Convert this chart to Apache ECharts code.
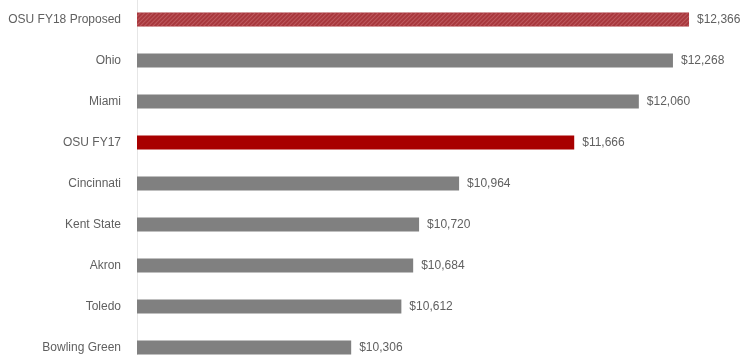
<!DOCTYPE html>
<html>
<head>
<meta charset="utf-8">
<script src="https://cdn.jsdelivr.net/npm/echarts@6/dist/echarts.min.js"></script>
<style>html,body{margin:0;padding:0;background:#fff;}#c{width:746px;height:355px;}</style>
</head>
<body>
<div id="c"></div>
<script>
var categories = ['OSU FY18 Proposed','Ohio','Miami','OSU FY17','Cincinnati','Kent State','Akron','Toledo','Bowling Green'];
var values = [12366, 12268, 12060, 11666, 10964, 10720, 10684, 10612, 10306];
var barColors = ['#a8383d','#808080','#808080','#a80000','#808080','#808080','#808080','#808080','#808080'];

var chart = echarts.init(document.getElementById('c'), null, {renderer:'canvas'});
var data = values.map(function(v,i){
  var item = {value: v, itemStyle: {color: barColors[i]}};
  if (i === 0) {
    item.itemStyle.decal = {
      symbol: 'rect', symbolSize: 1,
      dashArrayX: [1, 0], dashArrayY: [1, 2],
      rotation: -Math.PI/4,
      color: 'rgba(210,120,125,0.5)'
    };
  }
  return item;
});
chart.setOption({
  animation: false,
  grid: {left: 137, right: 35, top: -1, height: 369, containLabel: false, outerBoundsMode: 'none'},
  xAxis: {type: 'value', min: 9000, max: 12500, show: false},
  yAxis: {
    type: 'category', inverse: true, data: categories,
    axisLine: {show: true, lineStyle: {color: '#e6e6e6', width: 1}},
    axisTick: {show: false},
    axisLabel: {color: '#606060', fontSize: 12, fontFamily: 'Liberation Sans, Arial', margin: 16}
  },
  series: [{
    type: 'bar', data: data, barWidth: 14,
    label: {show: true, position: 'right', distance: 8, color: '#606060', fontSize: 12,
      fontFamily: 'Liberation Sans, Arial',
      formatter: function(p){ return '$' + p.value.toLocaleString('en-US'); }}
  }]
});
</script>
</body>
</html>
